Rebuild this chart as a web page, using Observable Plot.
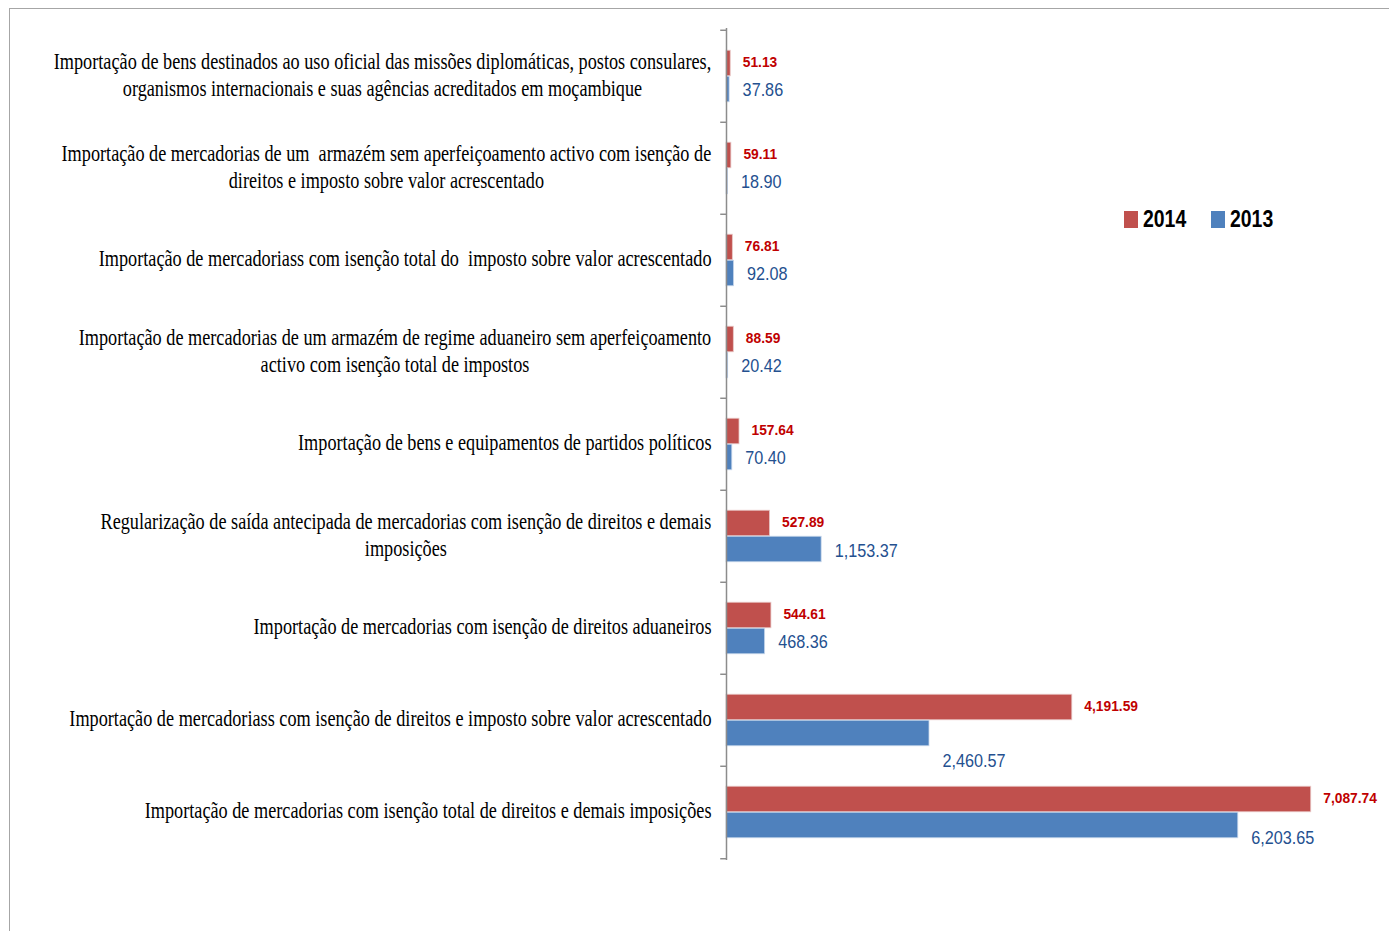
<!DOCTYPE html>
<html>
<head>
<meta charset="utf-8">
<script src="https://cdn.jsdelivr.net/npm/d3@7"></script>
<script src="https://cdn.jsdelivr.net/npm/@observablehq/plot@0.6"></script>
<style>
  html, body { margin: 0; padding: 0; background: #fff; }
  #wrap { position: relative; width: 1389px; height: 931px; overflow: hidden; }
  #frame { position: absolute; left: 9px; top: 8px; width: 1400px; height: 940px;
           border-left: 1.5px solid #a6a6a6; border-top: 1.5px solid #a6a6a6; box-sizing: border-box; }
  .lg-sw { position: absolute; width: 14px; height: 17px; }
  .lg-tx { position: absolute; font-family: "Liberation Sans", Arial, sans-serif; font-weight: bold;
           font-size: 24px; line-height: 24px; color: #000; transform: scaleX(0.81); transform-origin: left center; }
  #plotwrap svg { position: absolute; left: 0; top: 0; }
</style>
</head>
<body>
<div id="wrap">
  <div id="frame"></div>
  <div id="plotwrap"></div>
</div>
<script>
const categories = [
  "Importação de bens destinados ao uso oficial das missões diplomáticas, postos consulares,\norganismos internacionais e suas agências acreditados em moçambique",
  "Importação de mercadorias de um  armazém sem aperfeiçoamento activo com isenção de\ndireitos e imposto sobre valor acrescentado",
  "Importação de mercadoriass com isenção total do  imposto sobre valor acrescentado",
  "Importação de mercadorias de um armazém de regime aduaneiro sem aperfeiçoamento\nactivo com isenção total de impostos",
  "Importação de bens e equipamentos de partidos políticos",
  "Regularização de saída antecipada de mercadorias com isenção de direitos e demais\nimposições",
  "Importação de mercadorias com isenção de direitos aduaneiros",
  "Importação de mercadoriass com isenção de direitos e imposto sobre valor acrescentado",
  "Importação de mercadorias com isenção total de direitos e demais imposições"
];
const values2014 = [51.13, 59.11, 76.81, 88.59, 157.64, 527.89, 544.61, 4191.59, 7087.74];
const values2013 = [37.86, 18.90, 92.08, 20.42, 70.40, 1153.37, 468.36, 2460.57, 6203.65];
const seriesNames = ["2014", "2013"];
const seriesColors = ["#C0504D", "#4F81BD"];
const labelColors = ["#C00000", "#24508F"];
// extra downward shift of a few 2013 labels (styling, as placed in the original)
const label2013Shift = [0, 0, 0, 0, 0, 1, 0, 27, 12];

const rows2014 = categories.map((c, i) => ({category: c, value: values2014[i], idx: i}));
const rows2013 = categories.map((c, i) => ({category: c, value: values2013[i], idx: i}));
const fmt = d3.format(",.2f");

const band = (860 - 28) / categories.length;
const half = band / 2;
const barH = 26;
const numFont = '"Liberation Sans", Arial, sans-serif';

const chart = Plot.plot({
  width: 1389,
  height: 931,
  marginLeft: 726,
  marginRight: 3,
  marginTop: 28,
  marginBottom: 71,
  style: {background: "transparent", overflow: "visible"},
  x: {domain: [0, 8000], axis: null},
  y: {domain: categories, padding: 0, label: null},
  marks: [
    Plot.barX(rows2014, {x: "value", y: "category", fill: seriesColors[0], stroke: "#e8c8c7", strokeWidth: 0.8,
      insetTop: half - barH, insetBottom: half}),
    Plot.barX(rows2013, {x: "value", y: "category", fill: seriesColors[1], stroke: "#c9d8ec", strokeWidth: 0.8,
      insetTop: half, insetBottom: half - barH}),
    Plot.text(rows2014, {x: "value", y: "category", text: d => fmt(d.value), dx: 12, dy: -barH / 2 - 1,
      textAnchor: "start", fill: labelColors[0], fontWeight: "bold", fontSize: 15, fontFamily: numFont}),
    ...rows2013.map(d => Plot.text([d], {x: "value", y: "category", text: r => fmt(r.value), dx: 13,
      dy: barH / 2 + 1 + label2013Shift[d.idx],
      textAnchor: "start", fill: labelColors[1], fontSize: 18, fontFamily: numFont})),
    Plot.ruleX([0], {stroke: "#8c8c8c", strokeWidth: 1.5}),
    Plot.ruleY(categories, {y: d => d, x1: -70, x2: 0, dy: -half, stroke: "#8c8c8c", strokeWidth: 1.5}),
    Plot.ruleY([categories[categories.length - 1]], {y: d => d, x1: -70, x2: 0, dy: half, stroke: "#8c8c8c", strokeWidth: 1.5}),
    Plot.axisY({tickSize: 0, tickPadding: 15, fontSize: 24, lineHeight: 27 / 24, dy: -3,
      fontFamily: '"Liberation Serif", "Times New Roman", serif', fill: "#000", textOverflow: null})
  ]
});
document.getElementById("plotwrap").appendChild(chart);

// the original's type is horizontally condensed: squeeze text glyphs around their anchor
function squeeze(el, s) {
  const t = el.getAttribute("transform") || "";
  el.setAttribute("transform", t + ` scale(${s},1)`);
  if (el.hasAttribute("x")) {
    const x = parseFloat(el.getAttribute("x"));
    if (!isNaN(x)) el.setAttribute("x", x / s);
  }
}
chart.querySelectorAll("text").forEach(el => {
  const txt = el.textContent;
  const isNum = /^[\d,]+\.\d\d$/.test(txt);
  if (isNum) {
    const g = el.closest("g");
    const bold = g && g.getAttribute("font-weight") === "bold";
    squeeze(el, bold ? 0.92 : 0.9);
  } else {
    // multi-line category labels: lines centred on each other, block right-aligned
    const spans = el.querySelectorAll("tspan");
    if (spans.length > 1) {
      let maxW = 0;
      spans.forEach(sp => { maxW = Math.max(maxW, sp.getComputedTextLength()); });
      el.setAttribute("text-anchor", "middle");
      spans.forEach(sp => sp.setAttribute("x", -maxW / 2));
    }
    squeeze(el, 0.76);
  }
});

const wrap = document.getElementById("wrap");
const legendPos = [[1124, 1143], [1211, 1230]];
seriesNames.forEach((s, i) => {
  const sw = document.createElement("div");
  sw.className = "lg-sw";
  sw.style.left = legendPos[i][0] + "px";
  sw.style.top = "211px";
  sw.style.background = seriesColors[i];
  wrap.appendChild(sw);
  const tx = document.createElement("div");
  tx.className = "lg-tx";
  tx.style.left = legendPos[i][1] + "px";
  tx.style.top = "207px";
  tx.textContent = s;
  wrap.appendChild(tx);
});
</script>
</body>
</html>
